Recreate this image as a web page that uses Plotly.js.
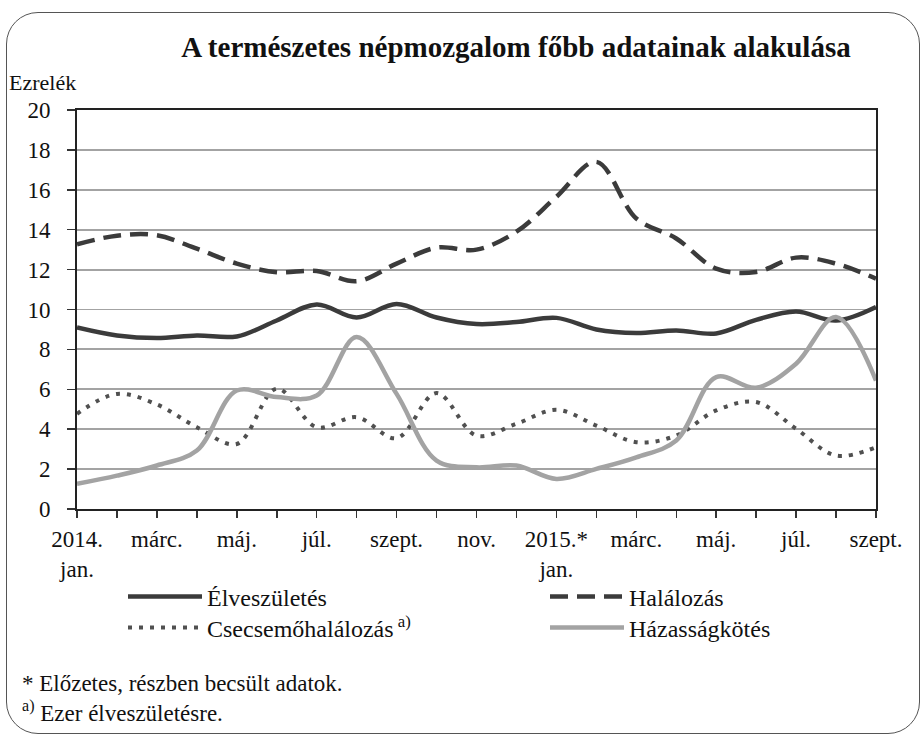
<!DOCTYPE html>
<html>
<head>
<meta charset="utf-8">
<script src="https://cdn.plot.ly/plotly-3.0.1.min.js"></script>
<style>
html,body{margin:0;padding:0;background:#fff;}
#wrap{position:relative;width:921px;height:740px;overflow:hidden;}
#chart{position:absolute;left:0;top:0;width:921px;height:740px;}
#frame{position:absolute;left:6px;top:12px;width:912px;height:720px;border:1.5px solid #555;border-radius:32px;pointer-events:none;}
</style>
</head>
<body>
<div id="wrap"><div id="chart"></div><div id="frame"></div></div>
<script>
// months: 2014 jan .. 2015 szept
const months = [0,1,2,3,4,5,6,7,8,9,10,11,12,13,14,15,16,17,18,19,20];
const labelMonths = [0,2,4,6,8,10,12,14,16,18,20];
const tickText = ["2014.<br>jan.","márc.","máj.","júl.","szept.","nov.","2015.*<br>jan.","márc.","máj.","júl.","szept."];

const elveszuletes = [9.1,8.7,8.57,8.7,8.65,9.45,10.25,9.6,10.28,9.6,9.27,9.37,9.58,9.0,8.82,8.95,8.8,9.48,9.9,9.45,10.13];
const halalozas    = [13.27,13.7,13.72,13.05,12.3,11.87,11.93,11.42,12.3,13.1,13.0,13.9,15.65,17.4,14.56,13.56,12.05,11.88,12.6,12.3,11.55];
const csecsemo     = [4.77,5.77,5.24,4.1,3.26,6.03,4.1,4.6,3.55,5.81,3.68,4.27,4.97,4.18,3.35,3.68,4.94,5.36,4.02,2.68,3.1];
const hazassag     = [1.26,1.67,2.18,2.93,5.94,5.61,5.69,8.62,5.77,2.43,2.09,2.18,1.51,2.01,2.59,3.43,6.61,6.08,7.28,9.62,6.44];

const seriesNames = ["Élveszületés","Halálozás","Csecsemőhalálozás<sup> a)</sup>","Házasságkötés"];

const FONT = "'Liberation Serif', 'Times New Roman', serif";

const traces = [
  {x:months,y:elveszuletes,name:seriesNames[0],legend:"legend",mode:"lines",
   line:{color:"#3b3b3b",width:4.5,shape:"spline",smoothing:1}},
  {x:months,y:halalozas,name:seriesNames[1],legend:"legend2",mode:"lines",
   line:{color:"#3b3b3b",width:4.5,shape:"spline",smoothing:1,dash:"18px,9px"}},
  {x:months,y:csecsemo,name:seriesNames[2],legend:"legend3",mode:"lines",
   line:{color:"#505050",width:4,shape:"spline",smoothing:1,dash:"4px,7px"}},
  {x:months,y:hazassag,name:seriesNames[3],legend:"legend4",mode:"lines",
   line:{color:"#a3a3a3",width:4.5,shape:"spline",smoothing:1}}
];

function leg(px, py){
  return {x:(px-77)/799,xanchor:"left",y:(509-py)/399,yanchor:"middle",orientation:"v",
    font:{family:FONT,size:24,color:"#111"},itemwidth:74,bgcolor:"rgba(0,0,0,0)",borderwidth:0};
}

const layout = {
  width:921,height:740,
  margin:{l:77,r:45,t:110,b:231},
  paper_bgcolor:"rgba(0,0,0,0)",plot_bgcolor:"#fff",
  font:{family:FONT,color:"#1a1a1a",size:22},
  title:{text:"<b>A természetes népmozgalom főbb adatainak alakulása</b>",
    font:{family:FONT,size:29,color:"#111"},xref:"container",yref:"container",
    x:516/921,xanchor:"center",y:1-47/740,yanchor:"middle"},
  showlegend:true,
  legend:leg(123,597),
  legend2:leg(545,597),
  legend3:leg(123,628),
  legend4:leg(545,628),
  xaxis:{range:[0,20],tickmode:"array",tickvals:labelMonths,ticktext:tickText,
    showgrid:false,zeroline:false,showline:true,linecolor:"#222",linewidth:2,mirror:true,
    ticks:"outside",ticklen:7,tickwidth:1.5,tickcolor:"#333",ticklabelstandoff:1,
    minor:{tickmode:"linear",tick0:0,dtick:1,ticks:"outside",ticklen:7,tickwidth:1.5,tickcolor:"#333",showgrid:false},
    tickfont:{family:FONT,size:23,color:"#111"},fixedrange:true},
  yaxis:{range:[0,20],tickmode:"linear",tick0:0,dtick:2,
    showgrid:true,gridcolor:"#a3a3a3",gridwidth:1.8,zeroline:false,
    showline:true,linecolor:"#222",linewidth:2,mirror:true,
    ticks:"outside",ticklen:8,tickwidth:1.5,tickcolor:"#333",ticklabelstandoff:12,
    tickfont:{family:FONT,size:23,color:"#111"},fixedrange:true},
  annotations:[
    {text:"Ezrelék",xref:"paper",yref:"paper",x:(7-77)/799,y:(509-83)/399,xanchor:"left",yanchor:"middle",
     showarrow:false,font:{family:FONT,size:22,color:"#111"}},
    {text:"* Előzetes, részben becsült adatok.",xref:"paper",yref:"paper",x:(20-77)/799,y:(509-683)/399,
     xanchor:"left",yanchor:"middle",showarrow:false,font:{family:FONT,size:23,color:"#111"}},
    {text:"<sup>a)</sup> Ezer élveszületésre.",xref:"paper",yref:"paper",x:(20-77)/799,y:(509-711)/399,
     xanchor:"left",yanchor:"middle",showarrow:false,font:{family:FONT,size:23,color:"#111"}}
  ]
};

Plotly.newPlot("chart",traces,layout,{staticPlot:true,displayModeBar:false});
</script>
</body>
</html>
